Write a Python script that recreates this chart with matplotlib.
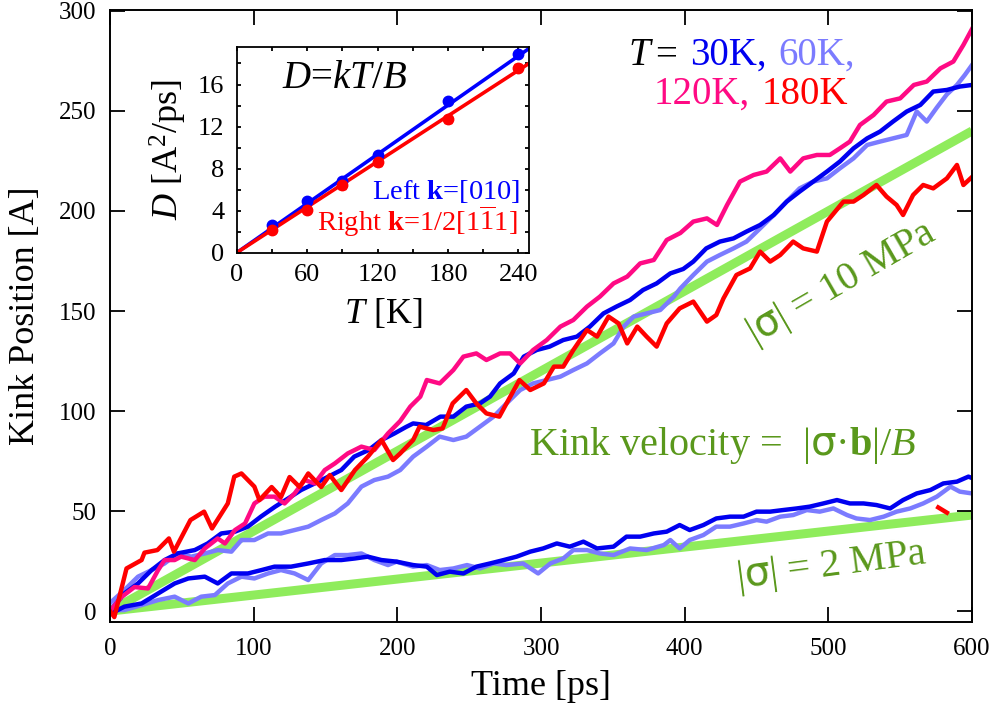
import matplotlib
matplotlib.use("Agg")
import matplotlib.pyplot as plt
import numpy as np

plt.rcParams['font.family'] = 'Liberation Serif'
plt.rcParams['mathtext.fontset'] = 'custom'
plt.rcParams['mathtext.rm'] = 'Liberation Serif'
plt.rcParams['mathtext.it'] = 'Liberation Serif:italic'
plt.rcParams['mathtext.bf'] = 'Liberation Serif:bold'
plt.rcParams['mathtext.sf'] = 'DejaVu Sans'

# kink position [A] vs time [ps]
kp_30K_10MPa = [(0, 0), (10, 8.8), (19.5, 13.8), (29, 20.5), (38, 25.5), (47, 28.8), (59, 30.5), (68, 33.8),
                (77.5, 38.8), (87, 39.7), (96, 42.2), (105, 47.2), (115, 52.2), (124, 56.3), (133, 60.5),
                (142.5, 63.8), (152, 67.2), (161, 70.5), (170, 77.2), (180, 80.5), (189, 85.5), (198, 88.8),
                (206, 92), (211, 93.8), (220, 93), (230, 97.2), (239, 97.2), (248, 102.2), (257.5, 103.8),
                (264.5, 107.2), (271.5, 113.8), (281, 118.8), (288, 127.2), (297, 130.5), (306, 132.2),
                (315.5, 135.5), (325, 137.2), (334, 142.2), (343.5, 148.8), (352.5, 152.2), (362, 155.5),
                (371, 160.5), (380.5, 163.8), (390, 168.8), (399, 171), (406, 174.7), (415, 181.3),
                (424.5, 184.7), (434, 186.3), (443, 189.7), (452.5, 193), (462, 198), (471, 204.7),
                (480, 209.7), (489.5, 214.7), (499, 219.7), (508, 224.7), (517.5, 231.3), (527, 236.3),
                (536, 239.7), (545, 244.7), (554.5, 249.7), (564, 253), (573, 259.7), (582.5, 260.5),
                (591.5, 262.2), (600, 263)]

kp_60K_10MPa = [(0, 4), (10, 10.5), (19.5, 17.2), (29, 20.5), (38, 23.8), (47, 28.8), (56.5, 27.2), (66, 28.8),
                (75, 30.5), (84.5, 29.7), (91.5, 35.5), (100.5, 35.5), (110, 38.8), (119, 38.8), (128.5, 40.5),
                (138, 42.2), (147, 45.5), (156.5, 48.8), (165.5, 53.8), (175, 62.2), (184, 65.5),
                (193.5, 67.2), (202, 70.5), (211, 77.2), (220.5, 82.2), (229.5, 87.2), (239, 85.5),
                (248, 87.2), (257.5, 92.2), (267, 97.2), (276, 103.8), (285.5, 110.5), (294.5, 113.8),
                (304, 115.5), (313.5, 117.2), (322.5, 120.5), (332, 123.8), (341, 128.8), (350.5, 133.8),
                (357.5, 142.2), (364.5, 147.2), (373.5, 148.8), (383, 150.5), (392.5, 157.2), (397, 161.3),
                (406, 168), (415.5, 174.7), (424.5, 178), (434, 181.3), (443, 184.7), (452.5, 191.3),
                (462, 198), (471, 204.7), (480, 211.3), (489.5, 214.7), (499, 216.3), (508, 221.3),
                (517.5, 226.3), (527, 233), (536, 234.7), (545, 236.3), (554.5, 238), (561.5, 249.7),
                (568.5, 244.7), (575.5, 251.7), (582.5, 258.3), (589.5, 263), (595, 268), (600, 273)]

kp_120K_10MPa = [(0, 0), (8, 7), (17, 12), (26.5, 11.3), (33.5, 20.5), (38, 25.5), (45, 25.5), (49.5, 27.2),
                 (59, 25.5), (66, 31.3), (75, 36.3), (80, 33.8), (87, 40.5), (94, 43.8), (100.5, 53.8),
                 (107.5, 57.2), (114.5, 57.2), (121.5, 53.8), (128.5, 58.8), (135.5, 65.5), (142.5, 63.8),
                 (149.5, 70.5), (156.5, 73.8), (165.5, 78.8), (175, 82.2), (184, 80.5), (193.5, 88.8),
                 (202, 95), (209, 102.2), (216, 107.2), (220.5, 115.5), (229.5, 113.8), (239, 120.5),
                 (246, 127.2), (255, 128.8), (262, 125.5), (271.5, 128.8), (278.5, 128.8), (285.5, 123.8),
                 (294.5, 130.5), (304, 135.5), (313.5, 142.2), (322.5, 145.5), (332, 152.2), (341, 157.2),
                 (350.5, 163.8), (360, 167.2), (369, 173.8), (378.5, 175.5), (387.5, 185.5), (397, 189),
                 (406, 194.7), (415.5, 196.3), (422.5, 193), (429.5, 203), (438.5, 214.7), (448, 218),
                 (457, 219.7), (466.5, 226.3), (473.5, 219.7), (482.5, 226.3), (492, 228), (501, 228),
                 (508, 231.3), (515, 234.7), (522, 243), (531.5, 248), (540.5, 254.7), (550, 256.3),
                 (559.5, 263), (568.5, 264.7), (578, 271.3), (587, 274.7), (594, 283), (600, 291)]

kp_180K_10MPa = [(0, 0), (3, -3), (11.5, 21.3), (22, 25.5), (24, 29.2), (33, 30.5), (41, 36.3), (44.5, 29.7),
                 (56, 45.5), (65.5, 49.7), (71, 41.3), (82, 53.8), (86.5, 67.2), (91.5, 68.8), (100.5, 62.2),
                 (104, 55.5), (112.5, 62), (119, 57), (125, 67), (132, 62), (138, 68.8), (147, 62), (153, 68),
                 (161, 60.5), (170.5, 70.5), (179.5, 77.2), (189, 85.5), (197, 75.5), (202, 78.8), (211, 85.5),
                 (215.5, 92.2), (225, 90.5), (231.5, 91.3), (238.5, 103.8), (248, 110.5), (255, 103.8),
                 (262, 98.8), (271, 97.2), (276, 103.8), (285, 115.5), (292.5, 110.5), (302, 113.8),
                 (309, 122.2), (315.5, 122.2), (322.5, 130.5), (332, 140.5), (339, 137.2), (347, 147.2),
                 (354, 143.8), (360, 133.8), (367, 142.2), (373.5, 137.2), (380.5, 132.2), (387.5, 143.8),
                 (396.5, 151.3), (406, 154.7), (415.5, 144.7), (422, 148), (427, 156.3), (436, 168),
                 (445.5, 171.3), (452.5, 179.7), (459.5, 174.7), (466.5, 178), (475.5, 184.7), (482.5, 181.3),
                 (492, 179.7), (499, 194.7), (510.5, 204.7), (517.5, 204.7), (524.5, 208), (533.5, 213),
                 (540.5, 207.2), (547.5, 203), (552, 198), (559, 208), (566, 213), (573, 211.3),
                 (582.5, 216.3), (589.5, 223), (594, 213), (600, 217)]

kp_30K_2MPa = [(0, 0), (4, 0), (10, 2.2), (22, 3.8), (33.5, 8.8), (45, 13.8), (54.5, 16.3), (66, 17.2),
               (75, 13.8), (84.5, 18.8), (96, 18.8), (105.5, 20.5), (114.5, 22.2), (126, 22.2), (138, 23.8),
               (149.5, 25.5), (161, 25.5), (170.5, 26.3), (179.5, 27.2), (189, 25.5), (199.5, 24.7),
               (211, 23), (220.5, 22.2), (227.5, 18), (236.5, 19.7), (246, 18.8), (255, 22.2), (264.5, 23.8),
               (274, 25.5), (283, 27.2), (292.5, 29.7), (301.5, 31.3), (311, 33.8), (320, 32.2),
               (329.5, 34.7), (339, 31.3), (350.5, 32.2), (359.5, 37.2), (369, 37.2), (378.5, 38.8),
               (387.5, 39.7), (396.5, 43), (403.5, 40.5), (413, 43), (422, 46.3), (431.5, 47.2), (441, 47.2),
               (450, 49.7), (459.5, 49.7), (468.5, 50.5), (478, 51.3), (487, 52.2), (496.5, 53.8),
               (506, 55.5), (515, 53.8), (524.5, 53.8), (533.5, 53), (543, 51.3), (552, 55.5),
               (561.5, 58.8), (571, 60.5), (580, 63.8), (589.5, 64.7), (597.5, 67.2), (600, 66.5)]

kp_60K_2MPa = [(0, 0.5), (10, 0.5), (22, 3), (33.5, 5.5), (45, 7.2), (54.5, 3.8), (63.5, 7.2), (73, 8),
               (82, 13.8), (91.5, 17.2), (100.5, 16.3), (110, 18.8), (119, 20.5), (128.5, 18.8), (138, 15.5),
               (147, 23.8), (156.5, 28), (165.5, 28), (175, 28.8), (184, 25.5), (193.5, 23), (199.5, 24.7),
               (211, 22.2), (220.5, 23), (229.5, 20.5), (239, 21.3), (248.5, 23), (257.5, 21.3), (267, 23.8),
               (276, 23), (287.5, 23.8), (298, 18.8), (306.5, 23.8), (315.5, 26.3), (322.5, 30.5),
               (332, 30.5), (341, 28.8), (350.5, 28), (362, 31.3), (373.5, 30.5), (385.5, 33), (390, 35.5),
               (396.5, 31.3), (403.5, 35.5), (413, 38), (422, 42.2), (431.5, 42.2), (441, 43.8), (450, 45.5),
               (457, 44.7), (466.5, 47.2), (475.5, 48), (485, 50.5), (494, 49.7), (503.5, 51.3), (513, 48),
               (519.5, 46.3), (529, 45.5), (538.5, 47.2), (547.5, 49.7), (557, 51.3), (566, 53.8),
               (575.5, 57.2), (585, 62.2), (591.5, 59.7), (600, 58.8)]

kp_180K_2MPa = [(576.5, 51.8), (582.5, 49.2)]

# drift lines |sigma.b|/B
t_drift = [0, 600]
kp_drift_10MPa = [0, 240]
kp_drift_2MPa = [0, 48]

# inset: diffusivity vs temperature
T_K = [30, 60, 90, 120, 180, 240]
D_left = [2.6, 4.9, 6.8, 9.3, 14.4, 18.9]
D_right = [2.2, 4.1, 6.4, 8.6, 12.7, 17.6]
D_right_err = [0.3, 0.35, 0.3, 0.35, 0.35, 0.35]
T_fit = [0, 250]
slope_left = 0.078
slope_right = 0.0723

c30 = '#0000f0'
c60 = '#7b7bff'
c120 = '#ff0a84'
c180 = '#ff0000'
c_drift = '#8fec5c'
c_text = '#5a981c'

fig = plt.figure(figsize=(9.99, 7.05), dpi=100)
ax = fig.add_axes([0.1101, 0.1182, 0.8629, 0.8677])

ax.plot(t_drift, kp_drift_10MPa, color=c_drift, lw=6.5, solid_capstyle='butt', zorder=1)
ax.plot(t_drift, kp_drift_2MPa, color=c_drift, lw=6.5, solid_capstyle='butt', zorder=1)

for data, col in [(kp_60K_2MPa, c60), (kp_30K_2MPa, c30), (kp_180K_2MPa, c180),
                  (kp_60K_10MPa, c60), (kp_30K_10MPa, c30),
                  (kp_120K_10MPa, c120), (kp_180K_10MPa, c180)]:
    d = np.array(data)
    ax.plot(d[:, 0], d[:, 1], color=col, lw=3.2, zorder=2)

ax.set_xlim(0, 600)
ax.set_ylim(-5.3, 300.5)
ax.set_xticks([0, 100, 200, 300, 400, 500, 600])
ax.set_yticks([0, 50, 100, 150, 200, 250, 300])
ax.tick_params(direction='in', length=11, width=1.3, labelsize=18, top=True, right=True)
ax.tick_params(axis='x', pad=12)
ax.tick_params(axis='y', pad=10)
for s in ax.spines.values():
    s.set_linewidth(1.4)
ax.set_xlabel('Time [ps]', fontsize=26, labelpad=7)
ax.set_ylabel('Kink Position [A]', fontsize=26, labelpad=12)

# temperature legend text
ax.text(360.8, 273, 'T', fontsize=28, style='italic', color='black')
ax.text(379.3, 273, '=', fontsize=28, color='black')
ax.text(403.4, 273, '30K,', fontsize=28, color=c30)
ax.text(465.2, 273, '60K,', fontsize=28, color=c60)
ax.text(378.2, 253.5, '120K,', fontsize=28, color=c120)
ax.text(453.6, 253.5, '180K', fontsize=28, color=c180)

ax.text(426.4, 78, r'Kink velocity =  |$\mathsf{σ}$·$\mathbf{b}$|/$B$', fontsize=29, color=c_text,
        ha='center', va='baseline')
ax.text(509, 164, r'|$\mathsf{σ}$| = 10 MPa', fontsize=29, color=c_text, rotation=30,
        ha='center', va='center', rotation_mode='anchor')
ax.text(502, 22.5, r'|$\mathsf{σ}$| = 2 MPa', fontsize=29, color=c_text, rotation=7.5,
        ha='center', va='center', rotation_mode='anchor')

# inset
ins = fig.add_axes([0.237, 0.6416, 0.2925, 0.2922])
ins.plot(T_fit, [slope_left * t for t in T_fit], color='#0000ff', lw=2.6)
ins.plot(T_fit, [slope_right * t for t in T_fit], color='#ff0000', lw=2.6)
ins.errorbar(T_K, D_right, yerr=D_right_err, fmt='o', color='#ff0000', ms=7.5, capsize=3, elinewidth=1.2)
ins.plot(T_K, D_left, 'o', color='#0000ff', ms=7.5)
ins.set_xlim(0, 249)
ins.set_ylim(0, 19.6)
ins.set_xticks([0, 60, 120, 180, 240])
ins.set_xticks([30, 90, 150, 210], minor=True)
ins.set_yticks([0, 4, 8, 12, 16])
ins.set_yticks([2, 6, 10, 14, 18], minor=True)
ins.tick_params(which='both', direction='in', length=3, width=1.3, top=True, right=True)
ins.tick_params(labelsize=19)
ins.tick_params(axis='x', pad=8)
ins.tick_params(axis='y', pad=9)
for s in ins.spines.values():
    s.set_linewidth(1.3)
ins.set_xlabel('$T$ [K]', fontsize=26, labelpad=8)
ins.set_ylabel('$D$ [A$^2$/ps]', fontsize=26, labelpad=6)
ins.text(0.154, 0.80, '$D$=$kT/B$', transform=ins.transAxes, fontsize=28, va='baseline')
ins.text(0.969, 0.261, r'Left $\mathbf{k}$=[010]', transform=ins.transAxes, fontsize=20.5,
         color='#0000ff', ha='right', va='baseline')
ins.text(0.962, 0.105, r'Right $\mathbf{k}$=1/2[1$\overline{1}$1]', transform=ins.transAxes, fontsize=20.5,
         color='#ff0000', ha='right', va='baseline')

fig.savefig('out.png', dpi=100)
